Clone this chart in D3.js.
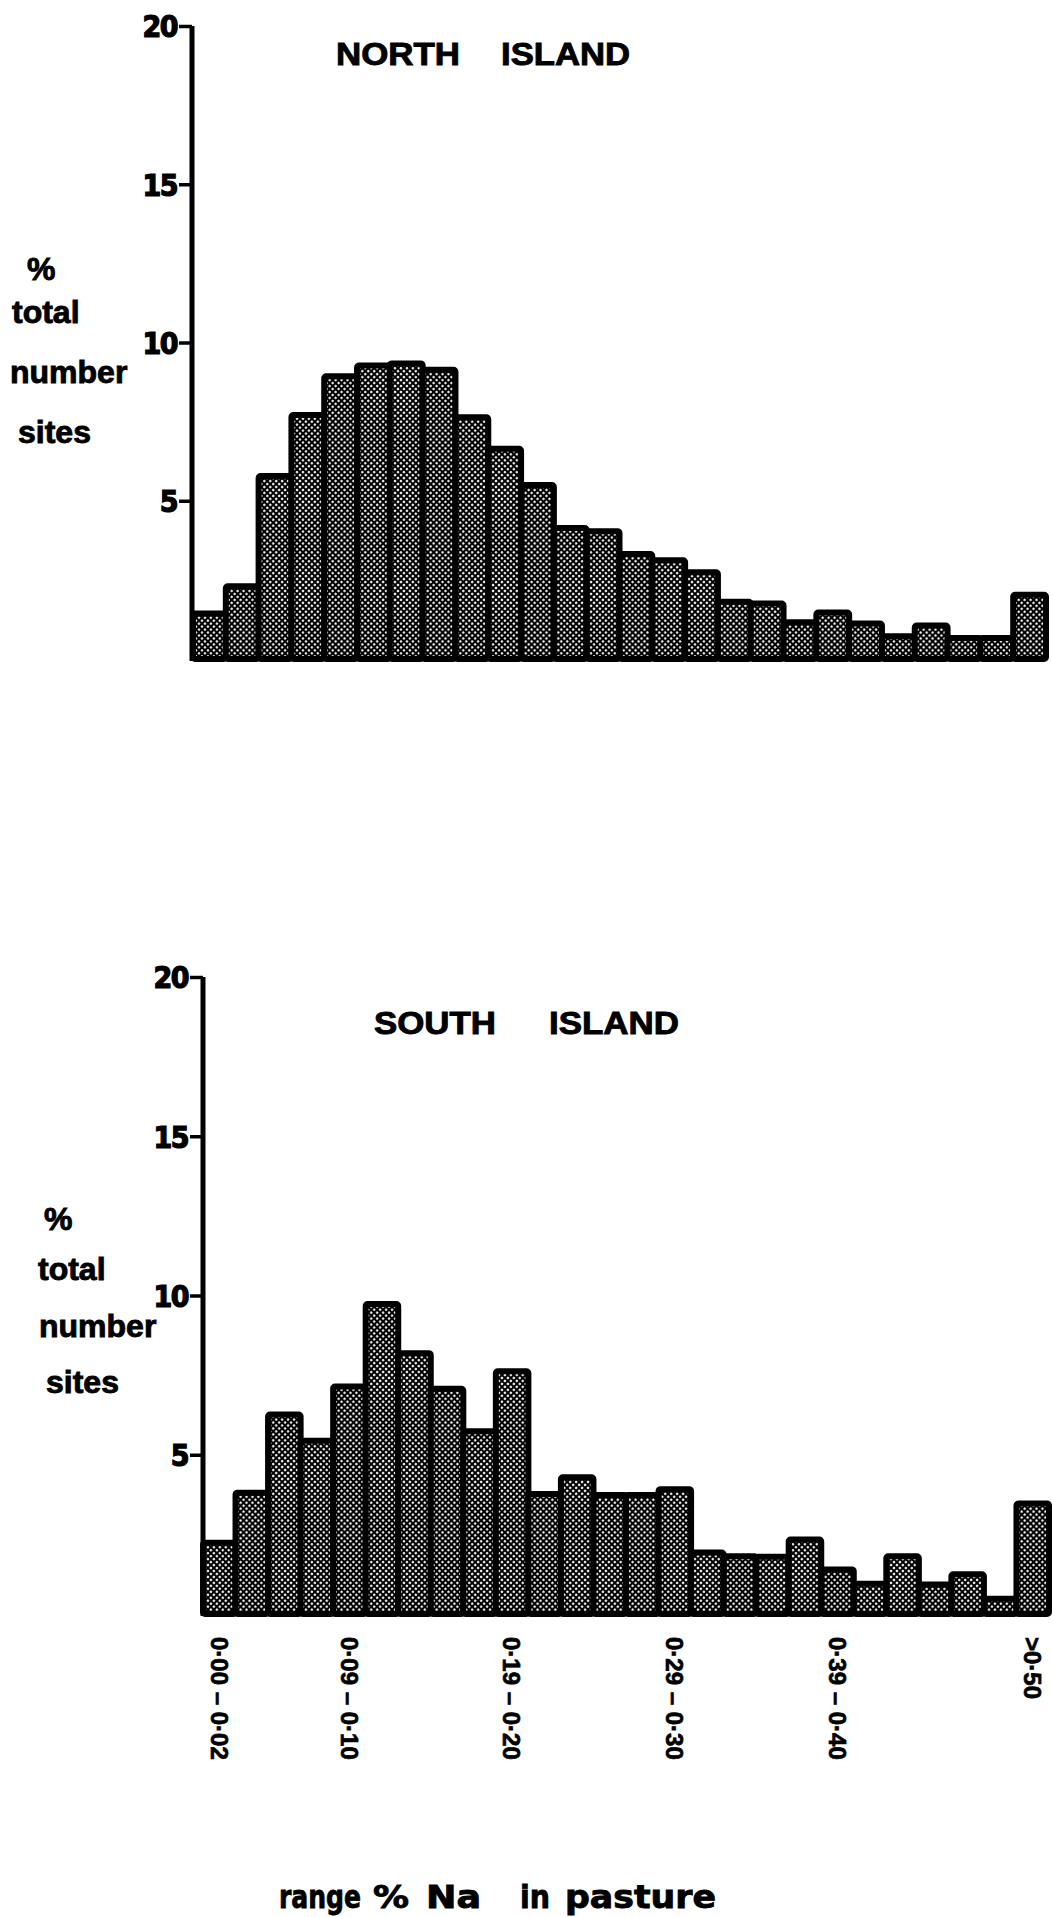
<!DOCTYPE html>
<html>
<head>
<meta charset="utf-8">
<script src="https://cdn.jsdelivr.net/npm/d3@7"></script>
<style>
  html, body { margin: 0; padding: 0; background: #fff; }
  svg { display: block; }
  .lbl { font-family: "Liberation Sans", Arial, sans-serif; font-weight: bold; fill: #000; stroke: #000; stroke-width: 0.9px; }
  .narrow { font-family: "Liberation Sans Narrow", "DejaVu Sans Condensed", "Liberation Sans", sans-serif; font-weight: bold; font-stretch: condensed; fill: #000; stroke: #000; stroke-width: 0.8px; }
  .cls { font-family: "Liberation Sans", Arial, sans-serif; font-weight: bold; fill: #000; stroke: #000; stroke-width: 0.7px; }
</style>
</head>
<body>
<script>
// Sodium content classes (% Na in pasture)
const bins = [
  "0·00 – 0·02", "0·03 – 0·04", "0·05 – 0·06", "0·07 – 0·08", "0·09 – 0·10",
  "0·11 – 0·12", "0·13 – 0·14", "0·15 – 0·16", "0·17 – 0·18", "0·19 – 0·20",
  "0·21 – 0·22", "0·23 – 0·24", "0·25 – 0·26", "0·27 – 0·28", "0·29 – 0·30",
  "0·31 – 0·32", "0·33 – 0·34", "0·35 – 0·36", "0·37 – 0·38", "0·39 – 0·40",
  "0·41 – 0·42", "0·43 – 0·44", "0·45 – 0·46", "0·47 – 0·48", "0·49 – 0·50",
  ">0·50"
];
// classes that carry a printed label under the axis
const labelledBins = ["0·00 – 0·02", "0·09 – 0·10", "0·19 – 0·20", "0·29 – 0·30", "0·39 – 0·40", ">0·50"];

// % of total number of sites in each class
const northValues = [1.44, 2.30, 5.78, 7.71, 8.93, 9.27, 9.34, 9.14, 7.64, 6.64,
                     5.50, 4.14, 4.04, 3.32, 3.12, 2.74, 1.81, 1.75, 1.16, 1.47,
                     1.12, 0.72, 1.06, 0.66, 0.66, 2.03];
const southValues = [2.24, 3.81, 6.26, 5.44, 7.14, 9.73, 8.19, 7.07, 5.74, 7.62,
                     3.77, 4.29, 3.74, 3.74, 3.92, 1.93, 1.81, 1.80, 2.34, 1.40,
                     0.95, 1.81, 0.93, 1.25, 0.48, 3.47];

const yTicks = [5, 10, 15, 20];
const yDomain = [0, 20];
const yLabelLines = ["%", "total", "number", "sites"];
const titleNorth = ["NORTH", "ISLAND"];
const titleSouth = ["SOUTH", "ISLAND"];
const xTitle = ["range", "%", "Na", "in", "pasture"];

const W = 1052, H = 1917;
const svg = d3.select("body").append("svg").attr("width", W).attr("height", H);

// halftone dot screen used to fill the bars
const defs = svg.append("defs");
const pat = defs.append("pattern")
  .attr("id", "screen")
  .attr("patternUnits", "userSpaceOnUse")
  .attr("width", 4.2).attr("height", 4.2)
  .attr("patternTransform", "rotate(45)");
pat.append("rect").attr("width", 4.2).attr("height", 4.2).attr("fill", "#000");
pat.append("circle").attr("cx", 2.1).attr("cy", 2.1).attr("r", 1.2).attr("fill", "#fff");

function panel(opt) {
  const g = svg.append("g");
  const x = d3.scaleBand().domain(bins).range([opt.x0, opt.x1]).padding(0);
  const y = d3.scaleLinear().domain(yDomain).range([opt.yBase, opt.yTop]);

  // bars
  g.selectAll("rect.bar")
    .data(opt.values.map((v, i) => ({ bin: bins[i], v })))
    .join("rect")
    .attr("class", "bar")
    .attr("x", d => x(d.bin))
    .attr("y", d => y(d.v))
    .attr("width", x.bandwidth())
    .attr("height", d => y(0) - y(d.v))
    .attr("rx", 2)
    .attr("fill", "url(#screen)")
    .attr("stroke", "#000")
    .attr("stroke-width", 6)
    .attr("stroke-linejoin", "round");

  // y axis
  const axis = d3.axisLeft(y).tickValues(yTicks).tickSize(13).tickSizeOuter(0).tickPadding(2)
    .tickFormat(d3.format("d"));
  const ag = g.append("g").attr("transform", `translate(${opt.axisX},0)`).call(axis);
  ag.select(".domain")
    .attr("d", `M0,${y(20)}V${y(0) + 2}`)
    .style("stroke", "#000").style("stroke-width", "5px");
  ag.selectAll(".tick line").style("stroke", "#000").style("stroke-width", "3.5px");
  ag.selectAll(".tick text")
    .attr("class", "narrow")
    .attr("dy", "0.36em")
    .style("font-size", "30px")
    .style("font-family", '"Liberation Sans Narrow", "DejaVu Sans Condensed", "Liberation Sans", sans-serif')
    .style("font-weight", "bold")
    .style("stroke-width", "1.2px")
    .style("letter-spacing", "-1.5px");

  // y label
  const yl = g.append("text").attr("class", "lbl").attr("font-size", 32);
  yLabelLines.forEach((t, i) => {
    yl.append("tspan").attr("x", opt.ylab[i][0]).attr("y", opt.ylab[i][1]).text(t);
  });

  // panel title
  const tt = g.append("text").attr("class", "lbl").attr("font-size", 31).attr("y", opt.titleY);
  opt.title.forEach((t, i) => {
    tt.append("tspan").attr("x", opt.titleX[i]).attr("textLength", opt.titleLen[i])
      .attr("lengthAdjust", "spacingAndGlyphs").text(t);
  });
  return { x, y };
}

panel({
  values: northValues, x0: 193, x1: 1046, yBase: 659, yTop: 26, axisX: 192,
  ylab: [[27, 280], [12, 323], [10, 383], [18, 443]],
  title: titleNorth, titleX: [336, 501], titleLen: [124, 129], titleY: 65
});

const south = panel({
  values: southValues, x0: 203, x1: 1049, yBase: 1614, yTop: 977, axisX: 203,
  ylab: [[44, 1230], [38, 1280], [39, 1337], [46, 1393]],
  title: titleSouth, titleX: [374, 549], titleLen: [122, 130], titleY: 1034
});

// class labels, set vertically under the lower panel
svg.append("g").selectAll("text")
  .data(labelledBins)
  .join("text")
  .attr("class", "cls")
  .attr("font-size", 24)
  .attr("transform", d => `translate(${south.x(d) + south.x.bandwidth() / 2},1637) rotate(90)`)
  .attr("dy", "0.36em")
  .text(d => d);

// axis title
const xt = svg.append("text").attr("class", "narrow").attr("font-size", 32).attr("y", 1908);
const xtPos = [[279, 82], [373, 36], [426, 55], [520, 30], [565, 151]];
xTitle.forEach((t, i) => {
  xt.append("tspan").attr("x", xtPos[i][0]).attr("textLength", xtPos[i][1])
    .attr("lengthAdjust", "spacingAndGlyphs").text(t);
});
</script>
</body>
</html>
